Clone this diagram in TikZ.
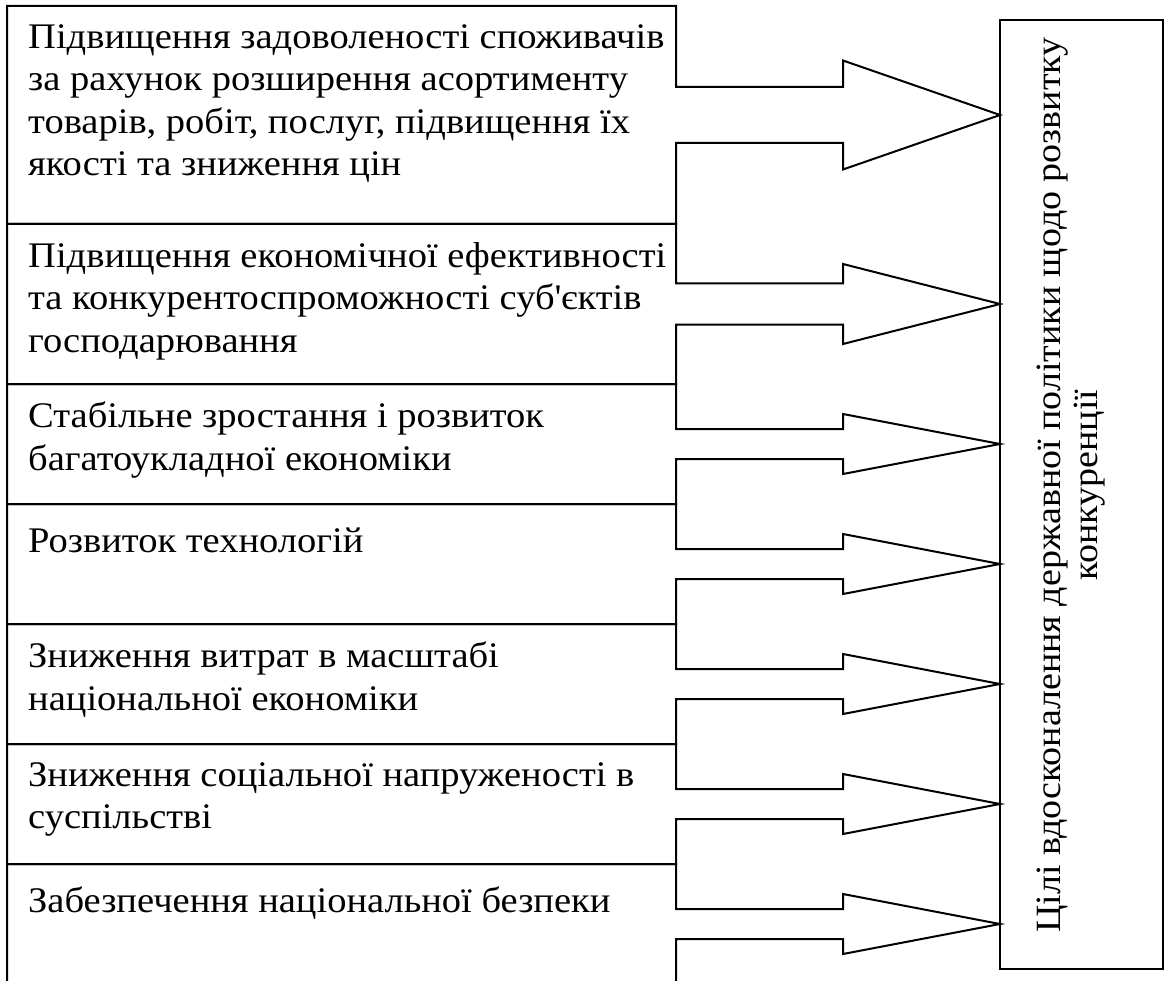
\documentclass[tikz,border=0pt]{standalone}
\usepackage{fontspec}
\setmainfont{Liberation Serif}[FakeStretch=1.07]
\usetikzlibrary{calc}

\newcommand{\goalfont}{\fontsize{36pt}{42.5pt}\selectfont}
\newcommand{\targetfont}{\fontsize{35.5pt}{37pt}\selectfont}

% box with its block arrow to the target: name, shaft half height, head half height
\newcommand{\goalarrow}[3]{%
    \draw[frame] let \p1 = (#1.east), \p2 = (target.west |- #1.east) in
        (#1.south east) -- (#1.south west) -- (#1.north west) -- (#1.north east)
        -- ({\x1}, {\y1 + #2}) -- ({\x1 + 167pt}, {\y1 + #2}) -- ({\x1 + 167pt}, {\y1 + #3})
        -- (\p2)
        -- ({\x1 + 167pt}, {\y1 - #3}) -- ({\x1 + 167pt}, {\y1 - #2}) -- ({\x1}, {\y1 - #2}) -- cycle;%
}

\begin{document}
\begin{tikzpicture}[x=1pt, y=-1pt,
            goalbox/.style={draw=none, minimum width=669pt, inner sep=0pt, outer sep=0pt},
            goal/.style={anchor=north west, align=left, inner sep=0pt, font=\goalfont, execute at begin node=\rule{0pt}{30pt}},
            target/.style={draw=black, line width=2pt, minimum width=163pt, minimum height=949pt, inner sep=0pt, outer sep=0pt},
            targettext/.style={rotate=90, align=center, inner sep=0pt, font=\targetfont},
            frame/.style={line width=2pt, line join=miter},
        ]
            \useasboundingbox (0, 0) rectangle (1166, 981);
            %% target
            \node[target] at (1081.5, 494.5) (target) {};
            \node[targettext] at (1071, 485) (targettext) {Цілі вдосконалення державної політики щодо розвитку\\конкуренції};
            %% goals
            \node[goalbox, minimum height=218pt] at (341.5, 115) (satisfaction) {};
            \node[goalbox, minimum height=160pt] at (341.5, 304) (efficiency) {};
            \node[goalbox, minimum height=120pt] at (341.5, 444) (growth) {};
            \node[goalbox, minimum height=120pt] at (341.5, 564) (technology) {};
            \node[goalbox, minimum height=120pt] at (341.5, 684) (costs) {};
            \node[goalbox, minimum height=120pt] at (341.5, 804) (tension) {};
            \node[goalbox, minimum height=120pt] at (341.5, 924) (security) {};
            \node[goal] at ($(satisfaction.north west) + (21, 18)$) (satisfaction-text) {Підвищення задоволеності споживачів\\за рахунок розширення асортименту\\товарів, робіт, послуг, підвищення їх\\якості та зниження цін};
            \node[goal] at ($(efficiency.north west) + (21, 18)$) (efficiency-text) {Підвищення економічної ефективності\\та конкурентоспроможності суб\textquotesingle єктів\\господарювання};
            \node[goal] at ($(growth.north west) + (21, 18)$) (growth-text) {Стабільне зростання і розвиток\\багатоукладної економіки};
            \node[goal] at ($(technology.north west) + (21, 18)$) (technology-text) {Розвиток технологій};
            \node[goal] at ($(costs.north west) + (21, 18)$) (costs-text) {Зниження витрат в масштабі\\національної економіки};
            \node[goal] at ($(tension.north west) + (21, 18)$) (tension-text) {Зниження соціальної напруженості в\\суспільстві};
            \node[goal] at ($(security.north west) + (21, 18)$) (security-text) {Забезпечення національної безпеки};
            %% arrows
            \goalarrow{satisfaction}{28pt}{54.5pt}
            \goalarrow{efficiency}{20.5pt}{40pt}
            \goalarrow{growth}{15pt}{30pt}
            \goalarrow{technology}{15pt}{30pt}
            \goalarrow{costs}{15pt}{30pt}
            \goalarrow{tension}{15pt}{30pt}
            \goalarrow{security}{15pt}{30pt}
        \end{tikzpicture}
\end{document}
